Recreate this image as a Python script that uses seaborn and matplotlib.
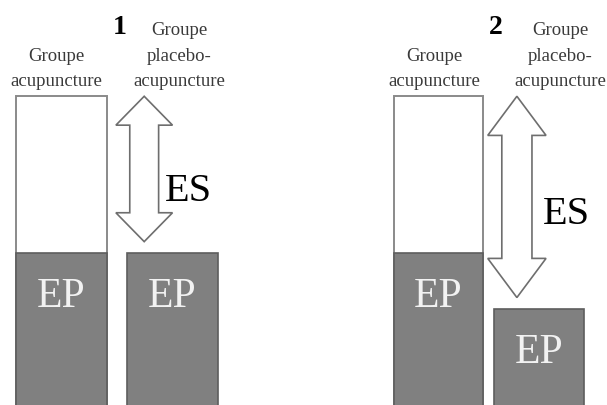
import matplotlib
matplotlib.use("Agg")
import matplotlib.pyplot as plt
import seaborn as sns
from matplotlib.patches import Polygon

# ---- data ----
groups = ["Groupe\nacupuncture", "Groupe\nplacebo-\nacupuncture"]
panels = ["1", "2"]
total_acup = [100, 100]      # effet total, groupe acupuncture
ep_acup = [49.5, 49.5]       # effet placebo (EP), groupe acupuncture
ep_placebo = [49.5, 31.5]    # effet placebo (EP), groupe placebo-acupuncture
es_label = "ES"
ep_label = "EP"

# ---- layout ----
W, H = 607, 405
YMIN, YMAX = 0.6, 131
GAP = 3.7
layouts = [
    dict(c0=61.5, step=111.0, width=0.82, arrow_x=0.745, head_w=0.51, shaft_w=0.26,
         head_len=9.3, es=(1.14, 69.5), num=(0.52, 122.0), lab_dx=(-0.05, 0.06)),
    dict(c0=438.5, step=100.5, width=0.89, arrow_x=0.78, head_w=0.58, shaft_w=0.30,
         head_len=12.6, es=(1.27, 62.0), num=(0.57, 122.0), lab_dx=(-0.045, 0.21)),
]
XL = (-0.55, 1.65)

sns.set_theme(style="white")
plt.rcParams['font.family'] = ['Liberation Serif', 'DejaVu Serif']

fig = plt.figure(figsize=(W / 100, H / 100), dpi=100)

for i, lay in enumerate(layouts):
    left_px = lay["c0"] + XL[0] * lay["step"]
    width_px = (XL[1] - XL[0]) * lay["step"]
    ax = fig.add_axes([left_px / W, 0, width_px / W, 1])

    # white total bar (acupuncture only)
    sns.barplot(x=[groups[0]], y=[total_acup[i]], order=groups, color="white",
                edgecolor="#8a8a8a", linewidth=1.4, width=lay["width"],
                saturation=1, errorbar=None, ax=ax)
    # grey placebo-effect bars
    sns.barplot(x=groups, y=[ep_acup[i], ep_placebo[i]], order=groups, color="#808080",
                edgecolor="#5e5e5e", linewidth=1.2, width=lay["width"],
                saturation=1, errorbar=None, ax=ax)

    ax.set_xlim(*XL)
    ax.set_ylim(YMIN, YMAX)
    ax.axis("off")

    # hollow double arrow for specific effect
    cx = lay["arrow_x"]
    hi = total_acup[i]
    lo = ep_placebo[i] + GAP
    hw, sw, hl = lay["head_w"] / 2, lay["shaft_w"] / 2, lay["head_len"]
    verts = [(cx, hi), (cx + hw, hi - hl), (cx + sw, hi - hl), (cx + sw, lo + hl),
             (cx + hw, lo + hl), (cx, lo), (cx - hw, lo + hl), (cx - sw, lo + hl),
             (cx - sw, hi - hl), (cx - hw, hi - hl)]
    ax.add_patch(Polygon(verts, closed=True, facecolor="white", edgecolor="#6e6e6e",
                         linewidth=1.2, clip_on=False, zorder=5))

    ax.text(lay["es"][0], lay["es"][1], es_label, ha="center", va="center",
            fontsize=29, color="black")

    # EP labels inside grey bars
    for j, v in enumerate([ep_acup[i], ep_placebo[i]]):
        ax.text(j, v - 17.5, ep_label, ha="center", va="baseline",
                fontsize=30, color="#f2f2f2", zorder=6)

    # group labels
    for j, g in enumerate(groups):
        ax.text(j + lay["lab_dx"][j], total_acup[i] + 2, g, ha="center", va="bottom",
                fontsize=13.5, color="#3a3a3a", linespacing=1.65)

    # panel number
    ax.text(lay["num"][0], lay["num"][1], panels[i], ha="center", va="center",
            fontsize=20, fontweight="bold", color="black")

fig.savefig("out.png", dpi=100)
